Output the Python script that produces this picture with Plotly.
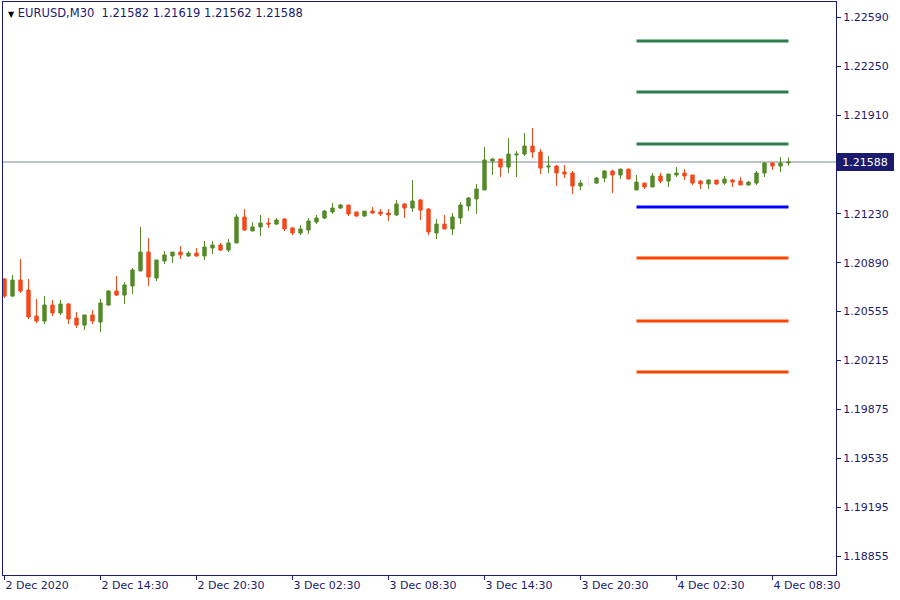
import plotly.graph_objects as go

# ---------------- data ----------------
symbol = "EURUSD,M30"
last_ohlc = [1.21582, 1.21619, 1.21562, 1.21588]

open_ = [1.20777, 1.20659, 1.20770, 1.20701, 1.20521, 1.20486, 1.20597, 1.20542, 1.20604, 1.20507,
         1.20458, 1.20528, 1.20479, 1.20597, 1.20694, 1.20666, 1.20729, 1.20833, 1.20964, 1.20784,
         1.20902, 1.20937, 1.20964, 1.20937, 1.20957, 1.20937, 1.20992, 1.21013, 1.20978, 1.21027,
         1.21207, 1.21110, 1.21138, 1.21165, 1.21158, 1.21193, 1.21131, 1.21096, 1.21117, 1.21172,
         1.21200, 1.21242, 1.21269, 1.21290, 1.21242, 1.21214, 1.21248, 1.21242, 1.21235, 1.21221,
         1.21297, 1.21269, 1.21325, 1.21262, 1.21096, 1.21158, 1.21124, 1.21200, 1.21283, 1.21332,
         1.21394, 1.21595, 1.21609, 1.21553, 1.21637, 1.21643, 1.21699, 1.21657, 1.21553, 1.21560,
         1.21519, 1.21512, 1.21422, 1.21436, 1.21442, 1.21477, 1.21526, 1.21498, 1.21539, 1.21394,
         1.21442, 1.21415, 1.21491, 1.21456, 1.21498, 1.21512, 1.21498, 1.21456, 1.21436, 1.21463,
         1.21442, 1.21463, 1.21456, 1.21429, 1.21442, 1.21512, 1.21581, 1.21560, 1.21582]
high = [1.20784, 1.20805, 1.20916, 1.20777, 1.20639, 1.20659, 1.20632, 1.20632, 1.20611, 1.20549,
        1.20528, 1.20562, 1.20639, 1.20701, 1.20798, 1.20756, 1.20853, 1.21138, 1.21061, 1.20909,
        1.20971, 1.20964, 1.21006, 1.20971, 1.20992, 1.21041, 1.21041, 1.21027, 1.21054, 1.21228,
        1.21262, 1.21172, 1.21221, 1.21200, 1.21200, 1.21200, 1.21138, 1.21151, 1.21200, 1.21221,
        1.21255, 1.21304, 1.21297, 1.21290, 1.21242, 1.21248, 1.21276, 1.21262, 1.21262, 1.21325,
        1.21304, 1.21463, 1.21332, 1.21269, 1.21193, 1.21221, 1.21235, 1.21311, 1.21345, 1.21436,
        1.21692, 1.21616, 1.21609, 1.21754, 1.21664, 1.21789, 1.21824, 1.21678, 1.21630, 1.21567,
        1.21567, 1.21526, 1.21463, 1.21491, 1.21484, 1.21533, 1.21533, 1.21539, 1.21539, 1.21498,
        1.21442, 1.21512, 1.21512, 1.21505, 1.21553, 1.21539, 1.21498, 1.21463, 1.21470, 1.21463,
        1.21491, 1.21470, 1.21484, 1.21456, 1.21526, 1.21588, 1.21588, 1.21623, 1.21619]
low = [1.20646, 1.20652, 1.20680, 1.20500, 1.20472, 1.20465, 1.20521, 1.20528, 1.20465, 1.20438,
       1.20424, 1.20465, 1.20410, 1.20590, 1.20659, 1.20604, 1.20673, 1.20833, 1.20729, 1.20763,
       1.20881, 1.20888, 1.20916, 1.20930, 1.20930, 1.20909, 1.20950, 1.20971, 1.20964, 1.21027,
       1.21110, 1.21110, 1.21075, 1.21131, 1.21151, 1.21110, 1.21082, 1.21082, 1.21089, 1.21158,
       1.21193, 1.21228, 1.21262, 1.21214, 1.21207, 1.21207, 1.21228, 1.21214, 1.21179, 1.21214,
       1.21200, 1.21242, 1.21186, 1.21082, 1.21054, 1.21124, 1.21082, 1.21158, 1.21248, 1.21228,
       1.21394, 1.21498, 1.21484, 1.21512, 1.21484, 1.21630, 1.21616, 1.21505, 1.21512, 1.21422,
       1.21477, 1.21366, 1.21394, 1.21422, 1.21436, 1.21449, 1.21373, 1.21470, 1.21470, 1.21394,
       1.21401, 1.21415, 1.21442, 1.21415, 1.21484, 1.21463, 1.21429, 1.21401, 1.21401, 1.21429,
       1.21429, 1.21415, 1.21429, 1.21422, 1.21429, 1.21484, 1.21533, 1.21519, 1.21562]
close = [1.20659, 1.20770, 1.20694, 1.20514, 1.20486, 1.20597, 1.20542, 1.20604, 1.20500, 1.20458,
         1.20528, 1.20486, 1.20611, 1.20694, 1.20666, 1.20736, 1.20840, 1.20964, 1.20791, 1.20909,
         1.20944, 1.20964, 1.20944, 1.20957, 1.20937, 1.20999, 1.21013, 1.20978, 1.21027, 1.21207,
         1.21117, 1.21138, 1.21165, 1.21158, 1.21186, 1.21124, 1.21096, 1.21124, 1.21179, 1.21200,
         1.21248, 1.21269, 1.21290, 1.21228, 1.21214, 1.21248, 1.21235, 1.21228, 1.21221, 1.21297,
         1.21269, 1.21318, 1.21255, 1.21103, 1.21158, 1.21124, 1.21207, 1.21290, 1.21339, 1.21401,
         1.21602, 1.21609, 1.21553, 1.21643, 1.21643, 1.21699, 1.21657, 1.21546, 1.21560, 1.21512,
         1.21505, 1.21422, 1.21442, 1.21436, 1.21477, 1.21526, 1.21498, 1.21539, 1.21470, 1.21449,
         1.21415, 1.21491, 1.21456, 1.21505, 1.21512, 1.21491, 1.21442, 1.21436, 1.21463, 1.21436,
         1.21470, 1.21449, 1.21429, 1.21449, 1.21512, 1.21581, 1.21560, 1.21581, 1.21588]

faint_bars = [73]  # doji drawn in a very light colour

tick_bars = [0, 12, 24, 36, 48, 60, 72, 84, 96]
tick_text = ["2 Dec 2020", "2 Dec 14:30", "2 Dec 20:30", "3 Dec 02:30", "3 Dec 08:30",
             "3 Dec 14:30", "3 Dec 20:30", "4 Dec 02:30", "4 Dec 08:30"]
price_ticks = [1.22590, 1.22250, 1.21910, 1.21230, 1.20890, 1.20555,
               1.20215, 1.19875, 1.19535, 1.19195, 1.18855]

pivot_from, pivot_to = 79, 98
resistance = [1.22427, 1.22073, 1.21713]
pivot = 1.21276
support = [1.20923, 1.20486, 1.20133]

# ---------------- styles ----------------
NAVY = "#1b1b6e"
UP = "#558a2a"
DOWN = "#f4491c"
FAINT = "#f2e9e4"
FONT = "DejaVu Sans"

bars = list(range(len(open_)))
main_idx = [i for i in bars if i not in faint_bars]

fig = go.Figure()

fig.add_trace(go.Candlestick(
    x=[bars[i] for i in main_idx],
    open=[open_[i] for i in main_idx], high=[high[i] for i in main_idx],
    low=[low[i] for i in main_idx], close=[close[i] for i in main_idx],
    increasing=dict(line=dict(color=UP, width=1), fillcolor=UP),
    decreasing=dict(line=dict(color=DOWN, width=1), fillcolor=DOWN),
    whiskerwidth=0, showlegend=False, hoverinfo="skip"))

fig.add_trace(go.Candlestick(
    x=[bars[i] for i in faint_bars],
    open=[open_[i] for i in faint_bars], high=[high[i] for i in faint_bars],
    low=[low[i] for i in faint_bars], close=[close[i] for i in faint_bars],
    increasing=dict(line=dict(color=FAINT, width=1), fillcolor=FAINT),
    decreasing=dict(line=dict(color=FAINT, width=1), fillcolor=FAINT),
    whiskerwidth=0, showlegend=False, hoverinfo="skip"))

# current price line
fig.add_shape(type="line", xref="paper", x0=0, x1=1, yref="y",
              y0=last_ohlc[3], y1=last_ohlc[3], line=dict(color="#7d8792", width=1),
              layer="below")

for lvl in resistance:
    fig.add_trace(go.Scatter(x=[pivot_from, pivot_to], y=[lvl, lvl], mode="lines",
                             line=dict(color="#2e7d4f", width=3), showlegend=False,
                             hoverinfo="skip"))
fig.add_trace(go.Scatter(x=[pivot_from, pivot_to], y=[pivot, pivot], mode="lines",
                         line=dict(color="#0000ff", width=3), showlegend=False,
                         hoverinfo="skip"))
for lvl in support:
    fig.add_trace(go.Scatter(x=[pivot_from, pivot_to], y=[lvl, lvl], mode="lines",
                             line=dict(color="#ff4500", width=3), showlegend=False,
                             hoverinfo="skip"))

title_text = ('<span style="font-size:8px;color:#000000">\u25BC</span>\u00a0'
              + symbol + "\u00a0\u00a0" + " ".join(f"{v:.5f}" for v in last_ohlc))
fig.add_annotation(xref="paper", yref="paper", x=0, y=1, xanchor="left", yanchor="top",
                   xshift=3, yshift=-2, text=title_text, showarrow=False,
                   font=dict(family=FONT, size=11.5, color=NAVY))

fig.add_annotation(xref="paper", yref="y", x=1, y=last_ohlc[3], xanchor="left",
                   yanchor="middle", text=f"{last_ohlc[3]:.5f}", showarrow=False,
                   bgcolor=NAVY, bordercolor=NAVY, borderwidth=1, borderpad=1,
                   width=54, height=14, align="center",
                   font=dict(family=FONT, size=11, color="#ffffff"))

fig.update_layout(
    width=900, height=600,
    margin=dict(l=3, r=64, t=2, b=25, autoexpand=False),
    paper_bgcolor="#ffffff", plot_bgcolor="#ffffff",
    boxgap=0.4,
    hovermode=False,
    xaxis=dict(range=[-0.1875, 103.9375], tickvals=tick_bars, ticktext=tick_text,
               ticks="outside", ticklen=4, tickcolor=NAVY, showgrid=False, zeroline=False,
               showline=True, mirror=True, linecolor=NAVY, linewidth=1,
               ticklabelposition="outside right", rangeslider=dict(visible=False),
               tickfont=dict(family=FONT, size=11, color=NAVY), fixedrange=True,
               automargin=False),
    yaxis=dict(range=[1.18726, 1.22697], side="right", tickvals=price_ticks,
               ticktext=[f"{v:.5f}" for v in price_ticks],
               ticks="outside", ticklen=4, tickcolor=NAVY, showgrid=False, zeroline=False,
               showline=True, mirror=True, linecolor=NAVY, linewidth=1,
               tickfont=dict(family=FONT, size=11, color=NAVY), fixedrange=True,
               automargin=False),
)

fig.write_html("out.html", config={"displayModeBar": False},
               post_script="document.body.style.margin='0px';document.body.style.overflow='hidden';")
